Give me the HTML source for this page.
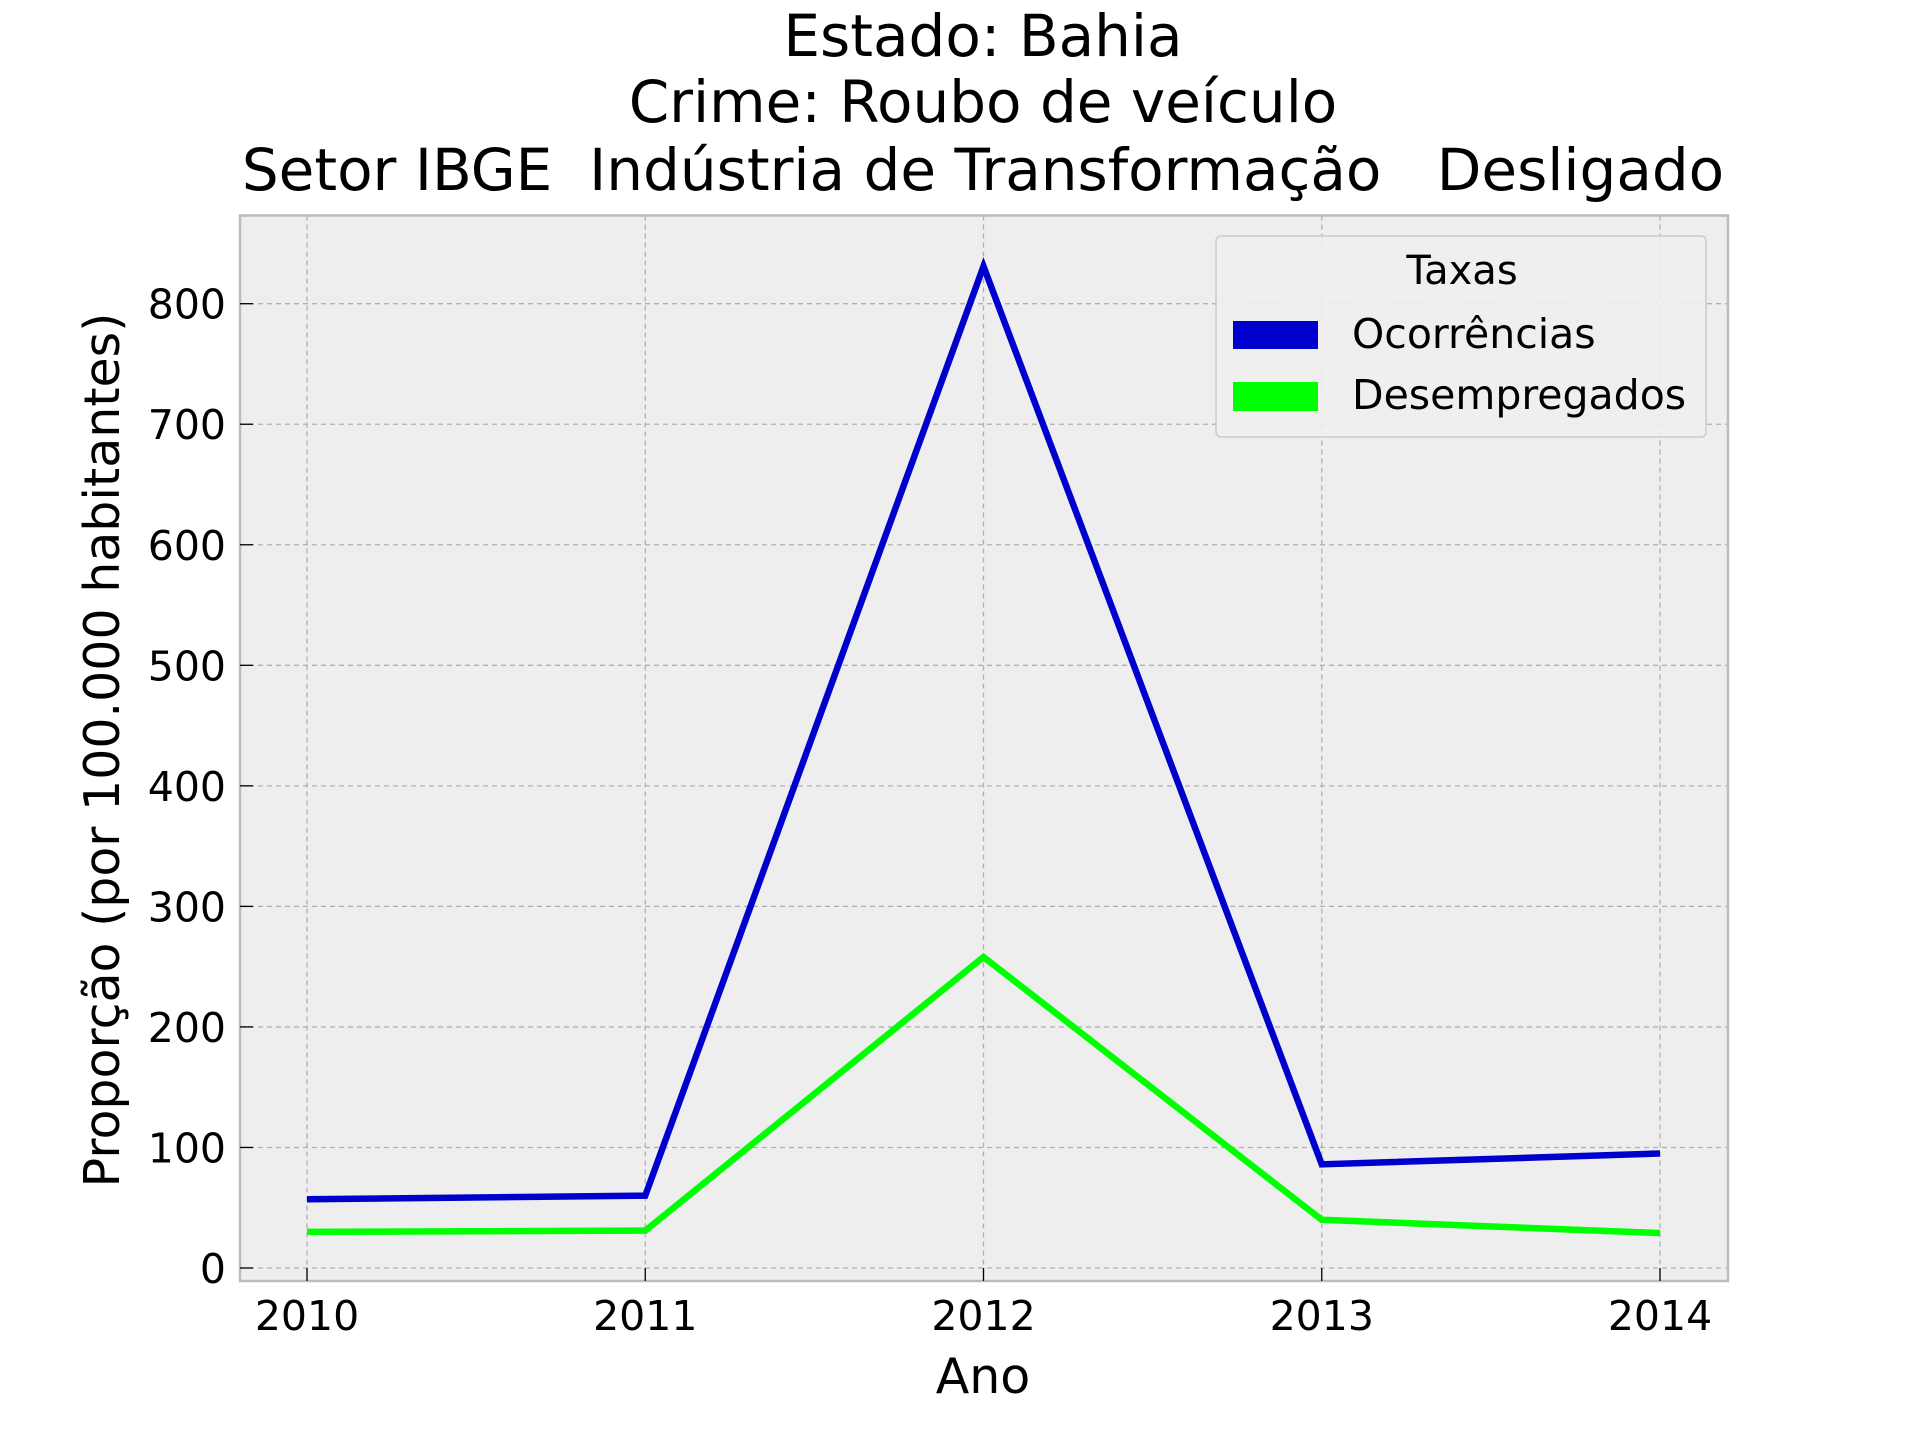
<!DOCTYPE html>
<html><head><meta charset="utf-8"><style>
html,body{margin:0;padding:0;background:#fff;}
svg{display:block;font-family:"DejaVu Sans","Liberation Sans",sans-serif;}
text{white-space:pre;}
</style></head><body>
<svg id="chart" width="1920" height="1440" viewBox="0 0 1920 1440" xml:space="preserve">
<text x="983" y="56" font-size="58" text-anchor="middle">Estado: Bahia</text>
<text x="983" y="122" font-size="58" text-anchor="middle">Crime: Roubo de veículo</text>
<text x="983" y="190" font-size="58" text-anchor="middle">Setor IBGE  Indústria de Transformação   Desligado</text>
<rect x="240" y="215.5" width="1488" height="1065.5" fill="#eeeeee"/>
<g id="grid"></g>
<g id="series"></g>
<rect x="240" y="215.5" width="1488" height="1065.5" fill="none" stroke="#bcbcbc" stroke-width="2.5"/>
<g id="ticks"></g>
<text x="983" y="1393" font-size="49" text-anchor="middle">Ano</text>
<text transform="translate(119,750) rotate(-90)" font-size="49" text-anchor="middle">Proporção (por 100.000 habitantes)</text>
<g>
<rect x="1216" y="236" width="490" height="201" rx="5" fill="#eeeeee" fill-opacity="0.9" stroke="#cccccc" stroke-width="1.5"/>
<text x="1462" y="284" font-size="40" text-anchor="middle">Taxas</text>
<rect x="1233" y="321" width="85" height="28" fill="#0000cc"/>
<text x="1352" y="348" font-size="41">Ocorrências</text>
<rect x="1233" y="382" width="85" height="29" fill="#00ff00"/>
<text x="1352" y="409" font-size="41">Desempregados</text>
</g>
</svg>
<script>
const years = ["2010","2011","2012","2013","2014"];
const ocorrencias = [57, 60, 831, 86, 95];
const desempregados = [30, 31, 258, 40, 29];
const yTicks = [0,100,200,300,400,500,600,700,800];
const NS="http://www.w3.org/2000/svg";
const xs = i => 307 + i*(1660-307)/(years.length-1);
const ys = v => 1268 - v*(1268-303.7)/800;
const grid=document.getElementById('grid'), ticks=document.getElementById('ticks'), series=document.getElementById('series');
function mk(tag,attrs,parent){const e=document.createElementNS(NS,tag);for(const k in attrs)e.setAttribute(k,attrs[k]);parent.appendChild(e);return e;}
years.forEach((y,i)=>{
  const g=mk('line',{x1:xs(i),x2:xs(i),y1:215.5,y2:1281,stroke:'#b0b0b0','stroke-width':1.3,'stroke-dasharray':'5,4'},grid);
  
  
  const t=mk('line',{x1:xs(i),x2:xs(i),y1:1281,y2:1268,stroke:'#000','stroke-width':1.3},ticks);
  
  
  const l=mk('text',{x:xs(i),y:1330,'font-size':41,'text-anchor':'middle'},ticks);
  l.textContent=y;
  
  
});
yTicks.forEach(v=>{
  const g=mk('line',{x1:240,x2:1728,y1:ys(v),y2:ys(v),stroke:'#b0b0b0','stroke-width':1.3,'stroke-dasharray':'5,4'},grid);
  
  
  const t=mk('line',{x1:240,x2:253,y1:ys(v),y2:ys(v),stroke:'#000','stroke-width':1.3},ticks);
  
  
  const l=mk('text',{x:226,y:ys(v)+15,'font-size':41,'text-anchor':'end'},ticks);
  l.textContent=v;
  
  
});
function line(data,color,name){
  const p=mk('polyline',{points:data.map((v,i)=>xs(i)+','+ys(v)).join(' '),fill:'none',stroke:color,'stroke-width':6.5,'stroke-linejoin':'miter'},series);
  
  
}
line(desempregados,'#00ff00','line-desempregados');
line(ocorrencias,'#0000cc','line-ocorrencias');
</script>
</body></html>
